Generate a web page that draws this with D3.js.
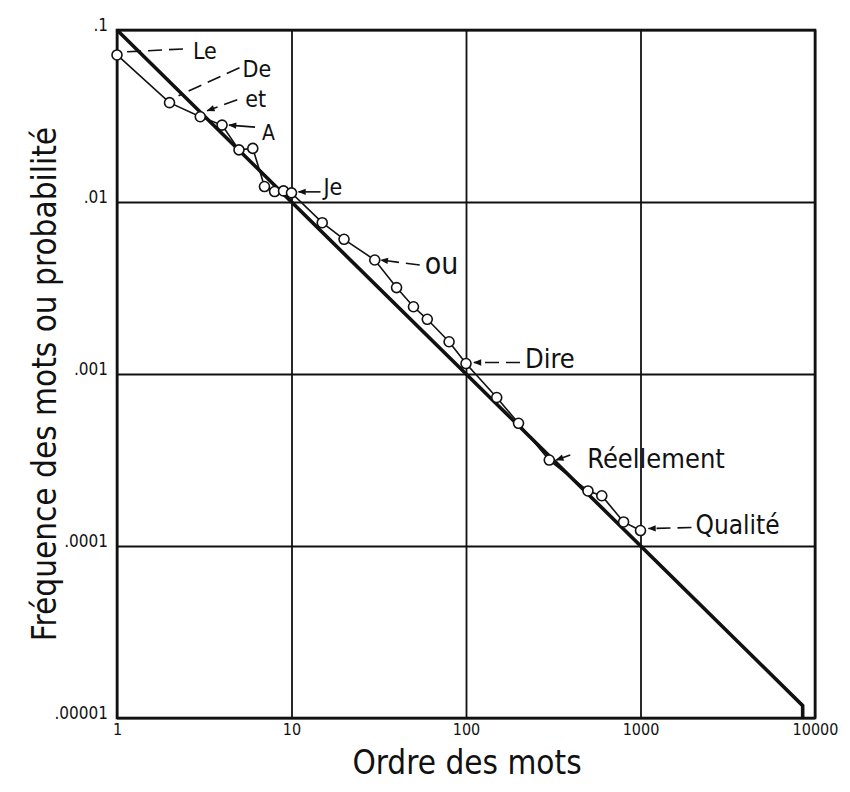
<!DOCTYPE html>
<html>
<head>
<meta charset="utf-8">
<script src="https://cdn.jsdelivr.net/npm/d3@7"></script>
<style>
  html, body { margin: 0; padding: 0; background: #fff; }
  svg { display: block; }
  text { font-family: "DejaVu Sans Condensed", "DejaVu Sans", sans-serif; font-stretch: condensed; fill: #111; }
</style>
</head>
<body>
<div id="chart"></div>
<script>
// ---------- data ----------
const ranks = [1, 2, 3, 4, 5, 6, 7, 8, 9, 10, 15, 20, 30, 40, 50, 60, 80, 100, 150, 200, 300, 500, 600, 800, 1000];
const freqs = [0.0716, 0.0378, 0.0313, 0.028, 0.0201, 0.0205, 0.0123, 0.0115, 0.0116, 0.0113,
               0.00758, 0.00607, 0.0046, 0.00318, 0.00246, 0.00208, 0.00154, 0.00115,
               0.00073, 0.000517, 0.000316, 0.000209, 0.000196, 0.000138, 0.000123];
// straight (Zipf) reference line
const zipfRanks = [1, 8500, 8500];
const zipfFreqs = [0.1, 0.0000118, 0.00001];
// labelled words
const words = ["Le", "De", "et", "A", "Je", "ou", "Dire", "Réellement", "Qualité"];
const wordRanks = [1, 2, 3, 4, 10, 30, 100, 300, 1000];
// ticks
const xTicks = [1, 10, 100, 1000, 10000];
const xTickLabels = ["1", "10", "100", "1000", "10000"];
const yTicks = [0.1, 0.01, 0.001, 0.0001, 0.00001];
const yTickLabels = [".1", ".01", ".001", ".0001", ".00001"];
const xTitle = "Ordre des mots";
const yTitle = "Fréquence des mots ou probabilité";

// ---------- layout ----------
const W = 850, H = 792;
const L = 117, R = 815, T = 30, B = 718;
const annot = {
  "Le":         { dx: 76,  dy: 4,   fs: 23, s: [66, -6],  e: [7, -3],   dash: true,  arrow: false },
  "De":         { dx: 73,  dy: -26, fs: 23, s: [70, -35], e: [9, -7],   dash: true,  arrow: false },
  "et":         { dx: 45,  dy: -10, fs: 23, s: [37, -17], e: [7, -6],   dash: true,  arrow: true },
  "A":          { dx: 40,  dy: 15,  fs: 21, s: [33, 2],   e: [7, 0],    dash: false, arrow: true },
  "Je":         { dx: 32,  dy: 2,   fs: 23, s: [29, -1],  e: [7, -1],   dash: false, arrow: true },
  "ou":         { dx: 50,  dy: 14,  fs: 30, s: [45, 5],   e: [6, 0],    dash: true,  arrow: true },
  "Dire":       { dx: 59,  dy: 4,   fs: 27, s: [54, -1],  e: [8, -1],   dash: true,  arrow: true },
  "Réellement": { dx: 38,  dy: 8,   fs: 27, s: [21, -5],  e: [7, 0],    dash: false, arrow: true },
  "Qualité":    { dx: 55,  dy: 3,   fs: 26, s: [51, -3],  e: [8, -2],   dash: true,  arrow: true }
};

const svg = d3.select("#chart").append("svg").attr("width", W).attr("height", H);

const x = d3.scaleLog().domain([1, 10000]).range([L, R]);
const y = d3.scaleLog().domain([0.00001, 0.1]).range([B, T]);

const xAxis = d3.axisBottom(x).tickValues(xTicks)
  .tickFormat((d, i) => xTickLabels[i]).tickSize(-(B - T)).tickPadding(6);
const gx = svg.append("g").attr("transform", `translate(0,${B})`).call(xAxis);
gx.select(".domain").remove();
gx.selectAll("line").attr("stroke", "#111").attr("stroke-width", 1.8);
gx.selectAll("text").attr("font-size", 16).attr("font-family", null).attr("fill", "#111");

const yAxis = d3.axisLeft(y).tickValues(yTicks)
  .tickFormat((d, i) => yTickLabels[i]).tickSize(-(R - L)).tickPadding(9);
const gy = svg.append("g").attr("transform", `translate(${L},0)`).call(yAxis);
gy.select(".domain").remove();
gy.selectAll("line").attr("stroke", "#111").attr("stroke-width", 1.8);
gy.selectAll("text").attr("font-size", 17).attr("font-family", null).attr("fill", "#111").attr("dy", "0.05em");

svg.append("rect").attr("x", L).attr("y", T).attr("width", R - L).attr("height", B - T)
  .attr("fill", "none").attr("stroke", "#111").attr("stroke-width", 2.6);

const line = d3.line().x(d => x(d[0])).y(d => y(d[1]));
svg.append("path").datum(zipfRanks.map((r, i) => [r, zipfFreqs[i]]))
  .attr("d", line).attr("fill", "none").attr("stroke", "#111").attr("stroke-width", 3.6)
  .attr("stroke-linejoin", "round");

const pts = ranks.map((r, i) => [r, freqs[i]]);
svg.append("path").datum(pts).attr("d", line)
  .attr("fill", "none").attr("stroke", "#111").attr("stroke-width", 1.6);

svg.selectAll("circle.pt").data(pts).enter().append("circle")
  .attr("class", "pt").attr("cx", d => x(d[0])).attr("cy", d => y(d[1])).attr("r", 5)
  .attr("fill", "#fff").attr("stroke", "#111").attr("stroke-width", 1.6);

svg.append("defs").append("marker").attr("id", "arr")
  .attr("viewBox", "0 0 10 10").attr("refX", 9).attr("refY", 5)
  .attr("markerWidth", 10).attr("markerHeight", 8).attr("markerUnits", "userSpaceOnUse")
  .attr("orient", "auto")
  .append("path").attr("d", "M0,1 L10,5 L0,9 Z").attr("fill", "#111");

words.forEach((w, i) => {
  const a = annot[w];
  const fi = ranks.indexOf(wordRanks[i]);
  const px = x(wordRanks[i]), py = y(freqs[fi]);
  svg.append("line")
    .attr("x1", px + a.s[0]).attr("y1", py + a.s[1])
    .attr("x2", px + a.e[0]).attr("y2", py + a.e[1])
    .attr("stroke", "#111").attr("stroke-width", 1.6)
    .attr("stroke-dasharray", a.dash ? "14,7" : null)
    .attr("marker-end", a.arrow ? "url(#arr)" : null);
  svg.append("text").attr("x", px + a.dx).attr("y", py + a.dy)
    .attr("font-size", a.fs).text(w);
});

svg.append("text").attr("x", (L + R) / 2 + 1).attr("y", 774)
  .attr("text-anchor", "middle").attr("font-size", 33).text(xTitle);
svg.append("text").attr("transform", "translate(56,384) rotate(-90)")
  .attr("text-anchor", "middle").attr("font-size", 33).text(yTitle);
</script>
</body>
</html>
